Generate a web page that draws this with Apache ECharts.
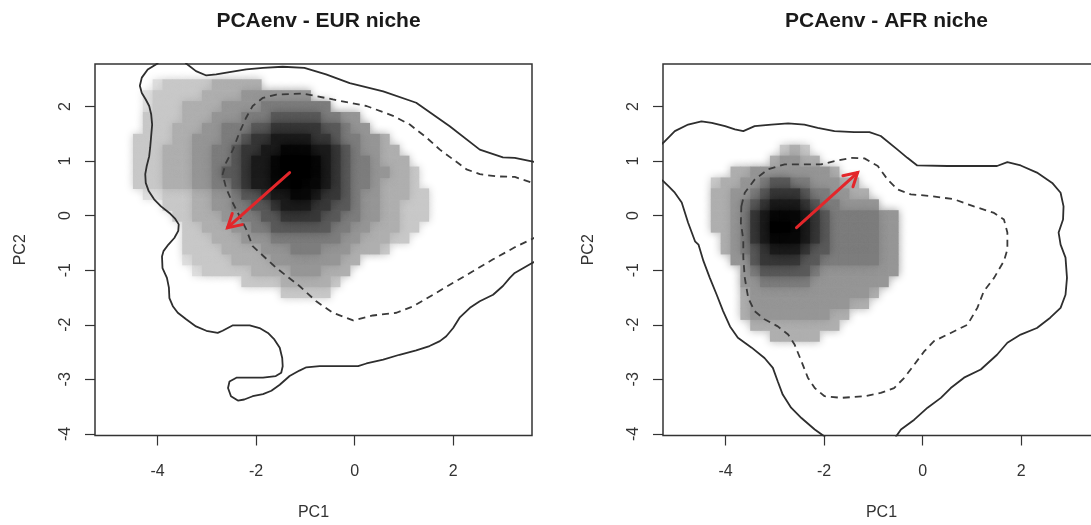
<!DOCTYPE html>
<html>
<head>
<meta charset="utf-8">
<title>PCAenv niches</title>
<script src="https://cdn.jsdelivr.net/npm/echarts@6/dist/echarts.min.js"></script>
<style>
  html, body { margin: 0; padding: 0; background: #fff; }
  #chart { width: 1091px; height: 525px; }
</style>
</head>
<body>
<div id="chart"></div>
<script>
// axes (same for both panels)
const xRange = [-5.27, 3.6];
const yRange = [-4.03, 2.78];
const xTicks = [-4, -2, 0, 2];
const yTicks = [-4, -3, -2, -1, 0, 1, 2];
const panelTitles = ['PCAenv - EUR niche', 'PCAenv - AFR niche'];

// density rasters, one string per row from the top row down.
// '.' = empty, 0..9 = grey level (9 = black). cell size densStep
const densStep = 0.2;
const eurDensTop = 2.4;
const eurDensLeft = -4.4;
const eurDensity = [
  '..01111122222',
  '.01111122223333333',
  '.0111222233334444444',
  '.1111222333444555554433',
  '.11122233444556666655433',
  '11112233344566777766544332',
  '111222334456677888776543322',
  '1112223344567789998765443222',
  '11122233455677899987654433221',
  '11122233445677889887654432221',
  '.00111223345567788766543322211',
  '...111223344556777665543322111',
  '....11222334455666655443322111',
  '.....112223344555555443322211',
  '.....11122233344444443322211',
  '.....111122223334443332221',
  '.....011112222333333322',
  '......0111112222333222',
  '...........1111222221',
  '...............11111'
];
const afrDensTop = 1.2;
const afrDensLeft = -4.4;
const afrDensity = [
  '........121',
  '.......23322',
  '...22333333332',
  '.122334554433322',
  '.2233456665443322',
  '.22345677765443333',
  '.2234678887654444433',
  '.2234679987654444433',
  '..234678887654444433',
  '..234567776554444433',
  '...33566665544444433',
  '....3455555433333333',
  '....334444433333333',
  '....23333333333332',
  '....2333333333322',
  '....23333333322',
  '.....222222222',
  '.......22222'
];
// grey shade for each level 0..9
const levelColors = ['#dedede', '#c8c8c8', '#afafaf', '#969696', '#7d7d7d',
  '#5a5a5a', '#383838', '#1c1c1c', '#080808', '#000000'];

// contour lines [PC1, PC2]
const eurSolid = [
  [3.8, 0.95], [3.62, 0.99], [3.25, 1.06], [3.01, 1.07], [2.54, 1.21], [1.93, 1.64], [1.25, 2.07],
  [0.58, 2.28], [-0.1, 2.43], [-0.58, 2.59], [-1.02, 2.71], [-1.46, 2.73], [-1.86, 2.71],
  [-2.2, 2.68], [-2.54, 2.63], [-2.81, 2.59], [-3.01, 2.57], [-3.22, 2.65], [-3.42, 2.79],
  [-3.6, 3.0], [-3.9, 3.0], [-4.0, 2.79], [-4.2, 2.68], [-4.32, 2.53], [-4.36, 2.38],
  [-4.32, 2.25], [-4.24, 2.13], [-4.17, 2.01], [-4.13, 1.86], [-4.11, 1.67], [-4.13, 1.46],
  [-4.15, 1.25], [-4.17, 1.09], [-4.22, 0.91], [-4.25, 0.76], [-4.24, 0.6], [-4.18, 0.45],
  [-4.07, 0.3], [-3.93, 0.17], [-3.76, 0.05], [-3.64, -0.06], [-3.57, -0.16], [-3.58, -0.28],
  [-3.66, -0.41], [-3.78, -0.53], [-3.88, -0.65], [-3.91, -0.75], [-3.9, -0.96], [-3.81, -1.14],
  [-3.77, -1.32], [-3.76, -1.51], [-3.69, -1.66], [-3.59, -1.78], [-3.42, -1.9], [-3.22, -2.03],
  [-3.01, -2.11], [-2.78, -2.15], [-2.68, -2.11], [-2.47, -2.01], [-2.13, -2.01], [-1.93, -2.06],
  [-1.76, -2.15], [-1.63, -2.27], [-1.52, -2.42], [-1.47, -2.61], [-1.46, -2.76], [-1.49, -2.88],
  [-1.6, -2.94], [-1.86, -2.97], [-2.4, -2.97], [-2.54, -3.04], [-2.57, -3.16], [-2.51, -3.31],
  [-2.37, -3.39], [-2.24, -3.37], [-2.07, -3.31], [-1.86, -3.27], [-1.69, -3.21], [-1.52, -3.1],
  [-1.32, -2.94], [-1.12, -2.84], [-0.98, -2.78], [-0.71, -2.76], [-0.3, -2.76], [0.07, -2.76],
  [0.24, -2.71], [0.58, -2.64], [0.91, -2.55], [1.25, -2.47], [1.52, -2.39], [1.73, -2.3],
  [1.86, -2.21], [2.0, -2.06], [2.13, -1.87], [2.34, -1.69], [2.54, -1.57], [2.81, -1.45],
  [3.01, -1.29], [3.15, -1.14], [3.25, -1.05], [3.62, -0.86], [3.8, -0.78]
];
const eurDashed = [
  [3.8, 0.56], [3.62, 0.6], [3.25, 0.71], [2.88, 0.72], [2.54, 0.76], [2.27, 0.85], [2.0, 1.03],
  [1.73, 1.21], [1.46, 1.43], [1.12, 1.67], [0.78, 1.83], [0.24, 2.01], [-0.44, 2.13],
  [-1.05, 2.24], [-1.59, 2.22], [-1.86, 2.16], [-2.07, 2.01], [-2.2, 1.8], [-2.34, 1.52],
  [-2.47, 1.21], [-2.61, 0.97], [-2.68, 0.76], [-2.61, 0.51], [-2.51, 0.3], [-2.37, 0.05],
  [-2.2, -0.25], [-2.07, -0.56], [-1.6, -0.95], [-1.12, -1.29], [-0.78, -1.57], [-0.44, -1.78],
  [-0.03, -1.92], [0.37, -1.83], [0.85, -1.78], [1.19, -1.66], [1.59, -1.45], [2.0, -1.23],
  [2.4, -1.02], [2.81, -0.8], [3.25, -0.58], [3.62, -0.42], [3.8, -0.34]
];
const afrSolid = [
  [-5.45, 1.2], [-5.26, 1.34], [-5.03, 1.55], [-4.76, 1.67], [-4.49, 1.73], [-4.28, 1.7],
  [-4.01, 1.64], [-3.81, 1.58], [-3.64, 1.55], [-3.41, 1.64], [-3.07, 1.67], [-2.73, 1.69],
  [-2.4, 1.67], [-2.13, 1.61], [-1.79, 1.55], [-1.39, 1.53], [-1.08, 1.53], [-0.85, 1.46],
  [-0.51, 1.21], [-0.31, 1.06], [-0.11, 0.92], [0.5, 0.91], [1.51, 0.91], [1.72, 0.98],
  [1.99, 0.92], [2.32, 0.79], [2.63, 0.6], [2.8, 0.42], [2.86, 0.17], [2.85, -0.07],
  [2.76, -0.31], [2.8, -0.53], [2.9, -0.77], [2.93, -1.14], [2.9, -1.45], [2.8, -1.69],
  [2.59, -1.87], [2.32, -2.06], [1.99, -2.18], [1.72, -2.33], [1.51, -2.55], [1.18, -2.82],
  [0.84, -2.97], [0.57, -3.16], [0.37, -3.34], [0.1, -3.52], [-0.17, -3.74], [-0.44, -3.92],
  [-0.54, -4.05], [-0.6, -4.5], [-1.9, -4.5], [-1.99, -4.05], [-2.19, -3.92], [-2.46, -3.71],
  [-2.67, -3.52], [-2.84, -3.28], [-2.94, -3.04], [-3.04, -2.79], [-3.21, -2.61], [-3.47, -2.42],
  [-3.75, -2.24], [-3.91, -2.03], [-4.05, -1.75], [-4.18, -1.45], [-4.32, -1.14], [-4.45, -0.83],
  [-4.55, -0.53], [-4.62, -0.47], [-4.76, -0.13], [-4.89, 0.24], [-5.03, 0.42], [-5.16, 0.54],
  [-5.26, 0.63], [-5.45, 0.75]
];
const afrDashed = [
  [-3.68, 0.17], [-3.61, 0.42], [-3.41, 0.66], [-3.14, 0.85], [-2.8, 0.94], [-2.4, 0.94],
  [-2.06, 0.94], [-1.79, 1.0], [-1.45, 1.06], [-1.18, 1.05], [-0.91, 0.91], [-0.71, 0.66],
  [-0.51, 0.48], [-0.24, 0.39], [0.17, 0.36], [0.64, 0.3], [1.04, 0.17], [1.45, 0.05],
  [1.65, -0.07], [1.72, -0.31], [1.72, -0.62], [1.65, -0.83], [1.45, -1.14], [1.24, -1.39],
  [1.11, -1.69], [0.91, -2.0], [0.57, -2.15], [0.23, -2.3], [0.03, -2.49], [-0.17, -2.73],
  [-0.37, -2.97], [-0.58, -3.16], [-0.85, -3.25], [-1.18, -3.31], [-1.65, -3.34], [-1.99, -3.31],
  [-2.19, -3.16], [-2.33, -2.97], [-2.46, -2.67], [-2.6, -2.36], [-2.73, -2.18], [-2.94, -2.03],
  [-3.21, -1.9], [-3.41, -1.75], [-3.54, -1.51], [-3.61, -1.14], [-3.64, -0.77], [-3.64, -0.44],
  [-3.69, -0.13], [-3.68, 0.17]
];

// arrows: [fromX, fromY, toX, toY]
const eurArrow = [-1.32, 0.79, -2.58, -0.22];
const afrArrow = [-2.56, -0.22, -1.32, 0.79];

// layout
const panelLeft = [95, 663];
const plotTop = 64;
const plotWidth = 437;
const plotHeight = 371.5;
const fontFamily = '"Liberation Sans", Arial, Helvetica, sans-serif';
const inkColor = '#333';

// cells sorted light to dark so the soft edge of a darker cell lies over its lighter neighbour
function rasterCells(rows, left, top) {
  const cells = [];
  rows.forEach((row, r) => {
    for (let i = 0; i < row.length; i++) {
      if (row[i] === '.') continue;
      cells.push([left + i * densStep, top - r * densStep, Number(row[i])]);
    }
  });
  cells.sort((a, b) => a[2] - b[2]);
  return cells;
}

function renderCell(params, api) {
  const x = api.value(0);
  const y = api.value(1);
  const h = densStep / 2;
  const a = api.coord([x - h, y + h]);
  const b = api.coord([x + h, y - h]);
  const color = api.visual('color');
  return {
    type: 'rect',
    shape: { x: a[0], y: a[1], width: b[0] - a[0] + 0.6, height: b[1] - a[1] + 0.6 },
    style: { fill: color, shadowBlur: 9, shadowColor: color }
  };
}

function renderArrow(params, api) {
  const p0 = api.coord([api.value(0), api.value(1)]);
  const p1 = api.coord([api.value(2), api.value(3)]);
  const ang = Math.atan2(p1[1] - p0[1], p1[0] - p0[0]);
  const head = 15;
  const spread = Math.PI / 6;
  const h1 = [p1[0] - head * Math.cos(ang - spread), p1[1] - head * Math.sin(ang - spread)];
  const h2 = [p1[0] - head * Math.cos(ang + spread), p1[1] - head * Math.sin(ang + spread)];
  const style = { stroke: '#e3262a', lineWidth: 3, fill: null, lineCap: 'round', lineJoin: 'miter' };
  return {
    type: 'group',
    children: [
      { type: 'line', shape: { x1: p0[0], y1: p0[1], x2: p1[0], y2: p1[1] }, style: style },
      { type: 'polyline', shape: { points: [h1, p1, h2] }, style: style }
    ]
  };
}

const chart = echarts.init(document.getElementById('chart'), null, { renderer: 'canvas' });

const grids = [];
const xAxes = [];
const yAxes = [];
const titles = [];
const series = [];
const panels = [
  { dens: rasterCells(eurDensity, eurDensLeft, eurDensTop), solid: eurSolid, dashed: eurDashed, arrow: eurArrow },
  { dens: rasterCells(afrDensity, afrDensLeft, afrDensTop), solid: afrSolid, dashed: afrDashed, arrow: afrArrow }
];

panels.forEach((p, k) => {
  grids.push({
    left: panelLeft[k], top: plotTop, width: plotWidth, height: plotHeight,
    show: true, borderColor: inkColor, borderWidth: 1.5, backgroundColor: 'transparent',
    containLabel: false, outerBoundsMode: 'none'
  });
  titles.push({
    text: panelTitles[k],
    left: panelLeft[k] + plotWidth / 2,
    top: 6,
    textAlign: 'center',
    textStyle: { fontFamily: fontFamily, fontSize: 21, fontWeight: 'bold', color: '#1a1a1a' }
  });
  xAxes.push({
    gridIndex: k, type: 'value', min: xRange[0], max: xRange[1],
    axisLine: { show: false, onZero: false },
    splitLine: { show: false },
    axisTick: { show: true, inside: false, length: 10, customValues: xTicks, lineStyle: { color: inkColor, width: 1.2 } },
    axisLabel: { customValues: xTicks, margin: 28, fontFamily: fontFamily, fontSize: 16, color: inkColor },
    name: 'PC1', nameLocation: 'middle', nameGap: 69,
    nameTextStyle: { fontFamily: fontFamily, fontSize: 16, color: inkColor }
  });
  yAxes.push({
    gridIndex: k, type: 'value', min: yRange[0], max: yRange[1],
    axisLine: { show: false, onZero: false },
    splitLine: { show: false },
    axisTick: { show: true, inside: false, length: 10, customValues: yTicks, lineStyle: { color: inkColor, width: 1.2 } },
    axisLabel: { customValues: yTicks, rotate: 90, margin: 21, fontFamily: fontFamily, fontSize: 16, color: inkColor },
    name: 'PC2', nameLocation: 'middle', nameGap: 66,
    nameTextStyle: { fontFamily: fontFamily, fontSize: 16, color: inkColor }
  });
  series.push({
    type: 'custom', xAxisIndex: k, yAxisIndex: k, data: p.dens,
    renderItem: renderCell, silent: true, z: 1
  });
  series.push({
    type: 'line', xAxisIndex: k, yAxisIndex: k, data: p.solid,
    showSymbol: false, symbol: 'none', clip: true, silent: true, z: 3,
    lineStyle: { color: '#2e2e2e', width: 1.8 }
  });
  series.push({
    type: 'line', xAxisIndex: k, yAxisIndex: k, data: p.dashed,
    showSymbol: false, symbol: 'none', clip: true, silent: true, z: 3,
    lineStyle: { color: '#3a3a3a', width: 1.8, type: [7, 5] }
  });
  series.push({
    type: 'custom', xAxisIndex: k, yAxisIndex: k, data: [p.arrow],
    renderItem: renderArrow, silent: true, z: 4
  });
});

chart.setOption({
  animation: false,
  backgroundColor: '#fff',
  title: titles,
  grid: grids,
  xAxis: xAxes,
  yAxis: yAxes,
  visualMap: {
    show: false, type: 'continuous', min: 0, max: 9, dimension: 2,
    seriesIndex: [0, 4],
    inRange: { color: levelColors }
  },
  series: series
});
</script>
</body>
</html>
